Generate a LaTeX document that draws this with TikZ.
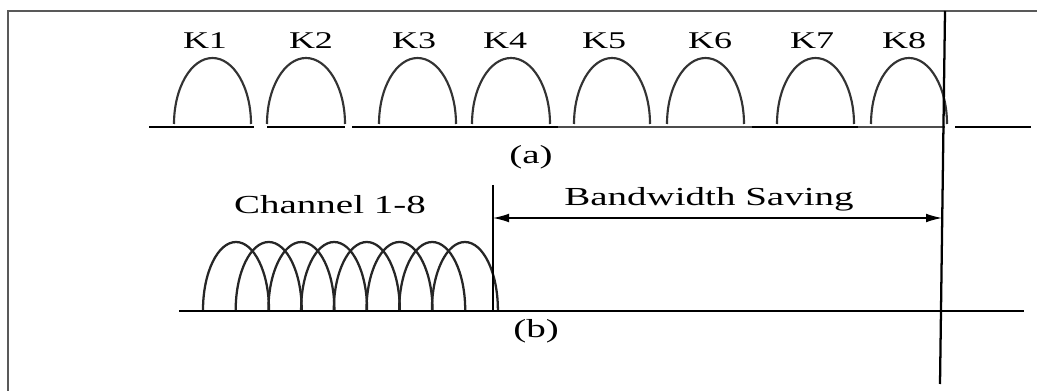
\documentclass[tikz,border=0pt]{standalone}
\usepackage{graphicx}
\usepackage{fontspec}
\setmainfont{Liberation Serif}
\usetikzlibrary{arrows.meta}
\newcommand{\widetext}[1]{\scalebox{1.5}[1]{#1}}
\tikzset{
  klabel/.style={font=\fontsize{18}{20}\selectfont, inner sep=0pt},
  captext/.style={font=\fontsize{19.5}{22}\selectfont, inner sep=0pt},
  boxframe/.style={draw=black!65, line width=1pt},
  baseline thick/.style={line width=1.9pt},
  baseline thin/.style={line width=0.8pt, draw=black!70},
  archline/.style={line width=1.6pt, draw=black!80},
  chanline/.style={line width=1.7pt, draw=black!85},
  dividerline/.style={line width=1.7pt},
  spanarrow/.style={line width=0.9pt, {Latex[length=12pt,width=6.5pt]}-{Latex[length=12pt,width=6.5pt]}},
}
\begin{document}
\begin{tikzpicture}[x=0.75pt,y=-0.75pt]
\useasboundingbox (0,0) rectangle (1037,391);
% frame
\draw[boxframe] (1037,11) -- (8,11) -- (8,391);
% (a) baseline
\draw[baseline thin] (558,127) -- (752,127);
\draw[baseline thin] (858,127) -- (945,127);
\draw[baseline thick] (149,127) -- (254,127);
\draw[baseline thick] (267,127) -- (345,127);
\draw[baseline thick] (352,127) -- (558,127);
\draw[baseline thick] (752,127) -- (858,127);
\draw[baseline thick] (955,127) -- (1031,127);
% (a) arches
\foreach \s/\e in {174/251,267/345,379/456,472/550,574/650,667/744,777/854,871/947}{
  \draw[archline] (\s,124) arc[start angle=180,end angle=360,x radius={(\e-\s)/2},y radius=66];
}
% (a) labels
\foreach \n/\x in {1/205,2/311,3/414,4/505,5/604,6/710,7/812,8/904}{
  \node[klabel] (k\n) at (\x,41) {\widetext{K\n}};
}
\node[captext] (la) at (531,157) {\widetext{(a)}};
% (b) baseline
\draw[baseline thick] (179,311) -- (1024,311);
% (b) overlapping channels
\foreach \k in {0,...,7}{
  \draw[chanline] ({203+32.7*\k},310) arc[start angle=180,end angle=360,x radius=33,y radius=68];
}
% dividers
\coordinate (dtop) at (493,185);
\coordinate (dbot) at (493,311);
\draw[dividerline] (dtop) -- (dbot);
\coordinate (rtop) at (945,11);
\coordinate (rbot) at (940,384);
\draw[dividerline] (rtop) -- (rbot);
% bandwidth saving arrow
\coordinate (al) at (493,218);
\coordinate (ar) at (942,218);
\draw[spanarrow] (al) -- (ar);
\node[captext] (bw) at (709,199) {\widetext{Bandwidth Saving}};
\node[captext] (ch) at (330,205) {\widetext{Channel 1-8}};
\node[captext] (lb) at (536,331) {\widetext{(b)}};
\end{tikzpicture}
\end{document}
